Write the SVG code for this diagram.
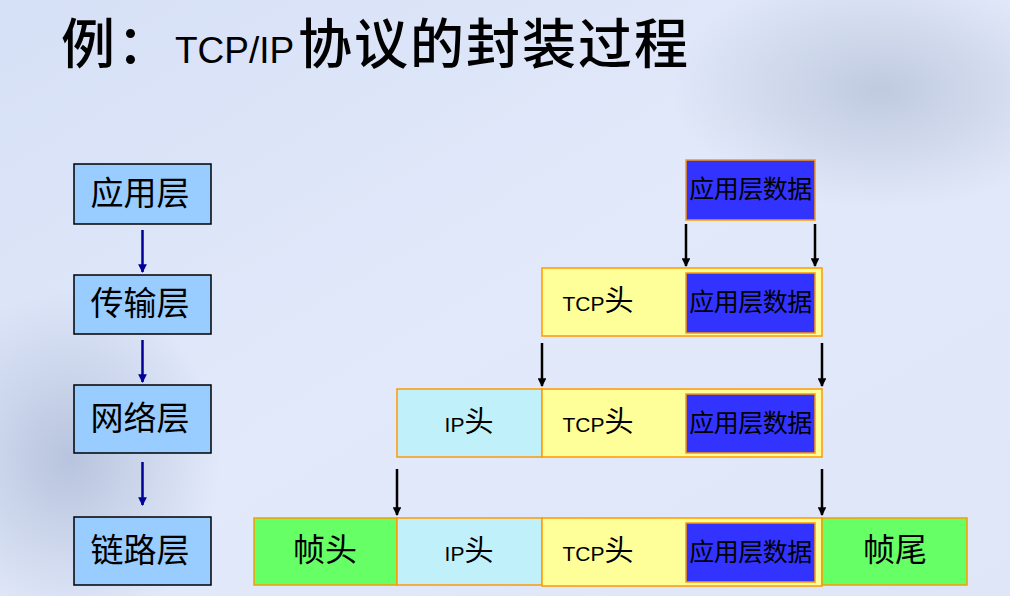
<svg xmlns="http://www.w3.org/2000/svg" width="1010" height="596" viewBox="0 0 1010 596">
<defs>
<linearGradient id="bg" x1="0" y1="0" x2="1" y2="1">
<stop offset="0" stop-color="#d6e0f6"/>
<stop offset="0.5" stop-color="#e2e9fa"/>
<stop offset="1" stop-color="#dfe6f8"/>
</linearGradient>
<radialGradient id="tr" cx="0.5" cy="0.5" r="0.5">
<stop offset="0" stop-color="#a4b1ca" stop-opacity="0.55"/>
<stop offset="1" stop-color="#a4b1ca" stop-opacity="0"/>
</radialGradient>
<radialGradient id="bl" cx="0.5" cy="0.5" r="0.5">
<stop offset="0" stop-color="#97a7c7" stop-opacity="0.55"/>
<stop offset="1" stop-color="#97a7c7" stop-opacity="0"/>
</radialGradient>
<marker id="ab" viewBox="0 0 10 10" refX="9" refY="5" markerWidth="5" markerHeight="3.5" orient="auto" markerUnits="strokeWidth">
<path d="M0,0 L10,5 L0,10 z" fill="#000"/>
</marker>
<marker id="au" viewBox="0 0 10 10" refX="9" refY="5" markerWidth="5" markerHeight="3.5" orient="auto" markerUnits="strokeWidth">
<path d="M0,0 L10,5 L0,10 z" fill="#000099"/>
</marker>
</defs>
<style>
.layer{fill:#99ccff;stroke:#000;stroke-width:1.5}
.blue{fill:#3333ff;stroke:#ff9900;stroke-width:1.5}
.yel{fill:#ffff99;stroke:#ff9900;stroke-width:1.5}
.cyan{fill:#c0f0fa;stroke:#ff9900;stroke-width:1.5}
.grn{fill:#66ff66;stroke:#ff9900;stroke-width:1.5}
.cjk{font-family:"Noto Sans CJK SC",sans-serif;fill:#000}
.lat{font-family:"Liberation Sans",Arial,sans-serif;fill:#000}
.ll{font-size:33px;text-anchor:middle}
.dat{font-size:25px;text-anchor:middle;letter-spacing:-0.5px}
.ttl{font-size:54px;font-weight:500;letter-spacing:2px}
.blk{stroke:#000;stroke-width:2.5;fill:none;marker-end:url(#ab)}
.nav{stroke:#000099;stroke-width:2.5;fill:none;marker-end:url(#au)}
</style>
<rect x="0" y="0" width="1010" height="596" fill="url(#bg)"/>
<ellipse cx="880" cy="90" rx="210" ry="120" fill="url(#tr)"/>
<ellipse cx="70" cy="460" rx="150" ry="170" fill="url(#bl)"/>

<g id="title">
<text x="61" y="64" class="cjk ttl">例：</text>
<text x="175" y="63" class="lat" font-size="37">TCP/IP</text>
<text x="298" y="64" class="cjk ttl">协议的封装过程</text>
</g>

<g id="layer-app"><rect class="layer" x="74" y="164" width="137" height="60"/><text class="cjk ll" x="140" y="205">应用层</text></g>
<g id="layer-trans"><rect class="layer" x="74" y="275" width="137" height="59"/><text class="cjk ll" x="140" y="315">传输层</text></g>
<g id="layer-net"><rect class="layer" x="74" y="385" width="137" height="68"/><text class="cjk ll" x="140" y="430">网络层</text></g>
<g id="layer-link"><rect class="layer" x="74" y="517" width="137" height="68"/><text class="cjk ll" x="140" y="562">链路层</text></g>

<g id="row1">
<rect class="blue" x="686" y="160" width="129" height="60"/><text class="cjk dat" x="750.5" y="198">应用层数据</text>
</g>
<g id="row2">
<rect class="yel" x="542" y="268" width="280" height="68"/>
<text x="598" y="311" text-anchor="middle"><tspan class="lat" font-size="21">TCP</tspan><tspan class="cjk" font-size="29">头</tspan></text>
<rect class="blue" x="686" y="273" width="129" height="60"/><text class="cjk dat" x="750.5" y="311">应用层数据</text>
</g>
<g id="row3">
<rect class="cyan" x="397" y="389" width="145" height="68"/>
<text x="469" y="432" text-anchor="middle"><tspan class="lat" font-size="21">IP</tspan><tspan class="cjk" font-size="29">头</tspan></text>
<rect class="yel" x="542" y="389" width="280" height="68"/>
<text x="598" y="432" text-anchor="middle"><tspan class="lat" font-size="21">TCP</tspan><tspan class="cjk" font-size="29">头</tspan></text>
<rect class="blue" x="686" y="394" width="129" height="59"/><text class="cjk dat" x="750.5" y="432">应用层数据</text>
</g>
<g id="row4">
<rect class="grn" x="254" y="518" width="143" height="67"/><text class="cjk" font-size="32" text-anchor="middle" x="325" y="561">帧头</text>
<rect class="cyan" x="397" y="518" width="145" height="67"/>
<text x="469" y="561" text-anchor="middle"><tspan class="lat" font-size="21">IP</tspan><tspan class="cjk" font-size="29">头</tspan></text>
<rect class="yel" x="542" y="518" width="280" height="68"/>
<text x="598" y="561" text-anchor="middle"><tspan class="lat" font-size="21">TCP</tspan><tspan class="cjk" font-size="29">头</tspan></text>
<rect class="blue" x="686" y="523" width="129" height="59"/><text class="cjk dat" x="750.5" y="561">应用层数据</text>
<rect class="grn" x="822" y="518" width="145" height="67"/><text class="cjk" font-size="32" text-anchor="middle" x="895" y="561">帧尾</text>
</g>

<g id="connectors">
<line class="nav" x1="142.5" y1="230" x2="142.5" y2="272"/>
<line class="nav" x1="142.5" y1="340" x2="142.5" y2="382"/>
<line class="nav" x1="142.5" y1="462" x2="142.5" y2="505"/>
<line class="blk" x1="686" y1="224" x2="686" y2="266"/>
<line class="blk" x1="815" y1="224" x2="815" y2="266"/>
<line class="blk" x1="542" y1="343" x2="542" y2="386"/>
<line class="blk" x1="822" y1="343" x2="822" y2="386"/>
<line class="blk" x1="397" y1="469" x2="397" y2="515"/>
<line class="blk" x1="822" y1="469" x2="822" y2="515"/>
</g>
</svg>
